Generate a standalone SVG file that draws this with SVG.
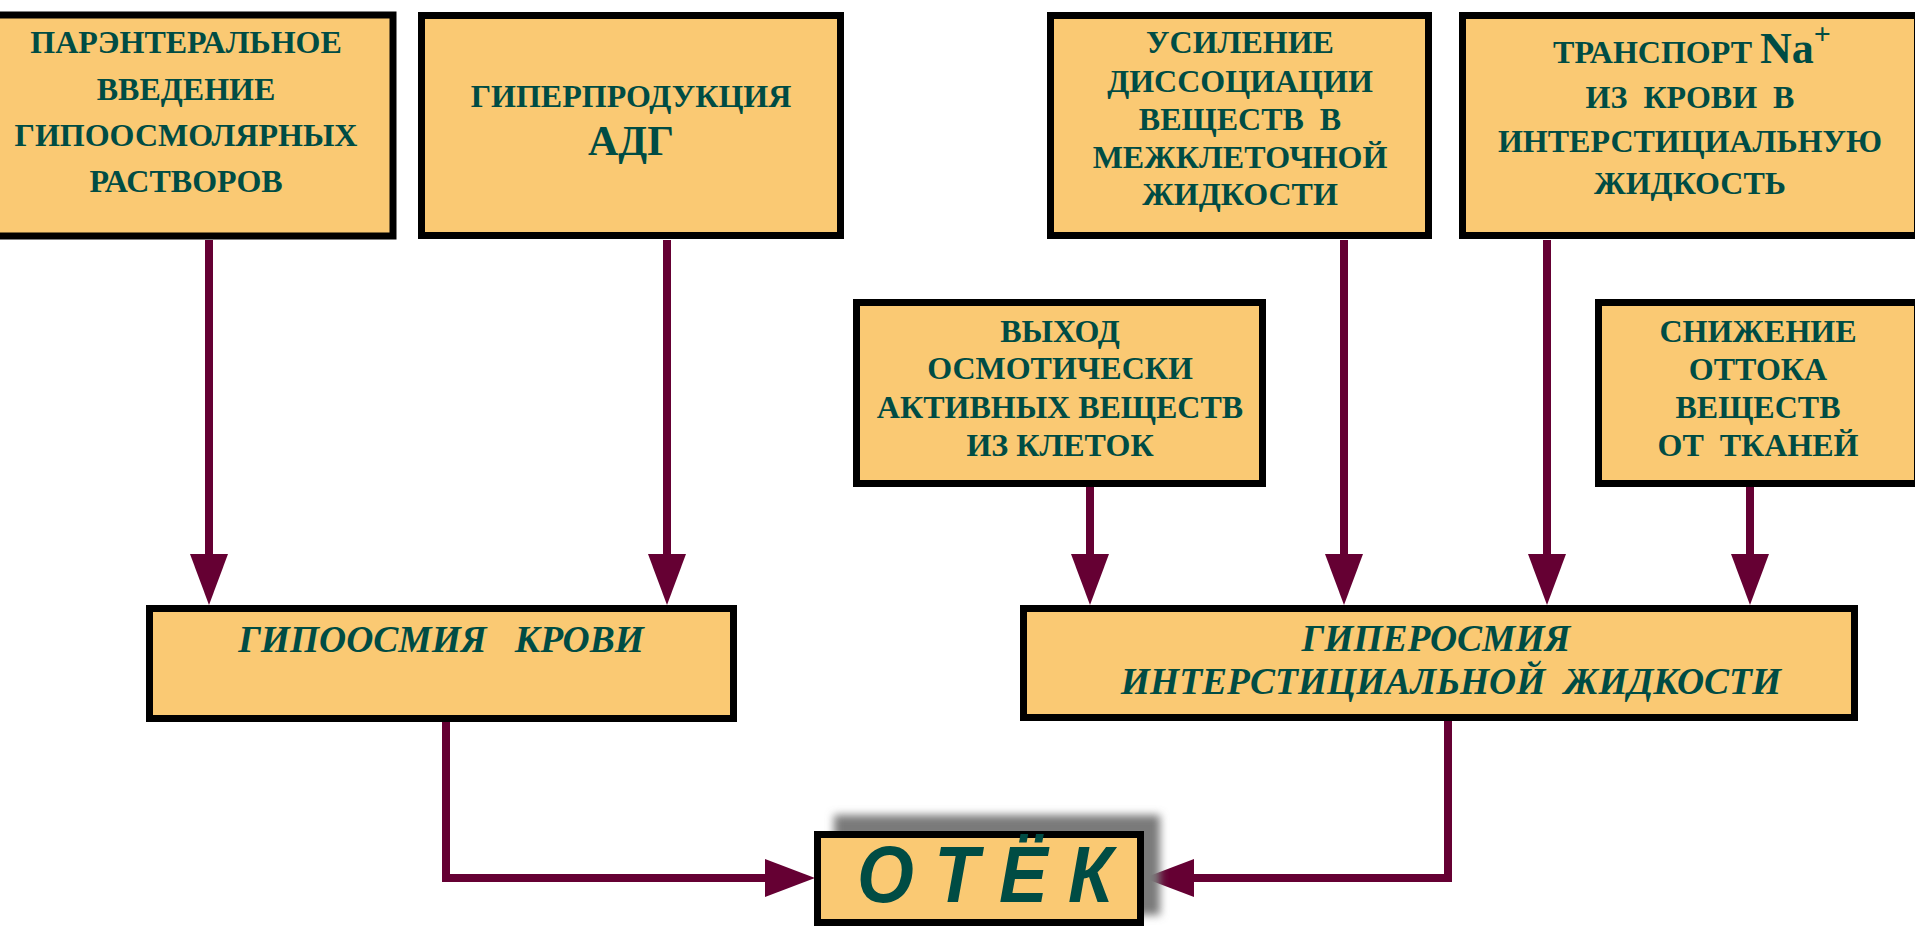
<svg xmlns="http://www.w3.org/2000/svg" width="1915" height="927" viewBox="0 0 1915 927">
<style>
.box{fill:#FAC973;stroke:#000;stroke-width:7}
.t{font-family:"Liberation Serif","Times New Roman",serif;font-weight:bold;font-size:32px;fill:#004C44;text-anchor:middle;white-space:pre}
.ti{font-family:"Liberation Serif","Times New Roman",serif;font-weight:bold;font-style:italic;font-size:37.5px;fill:#004C44;text-anchor:middle;white-space:pre}
.big{font-family:"Liberation Sans",Arial,sans-serif;font-weight:bold;font-style:italic;font-size:80px;fill:#004C44;white-space:pre}
.ln{fill:none;stroke:#650033;stroke-width:8}
.ah{fill:#650033}
</style>
<defs>
<filter id="blur" x="-20%" y="-40%" width="140%" height="180%"><feGaussianBlur stdDeviation="4"/></filter>
</defs>
<rect width="1915" height="927" fill="#fff"/>
<g id="connectors">
<line class="ln" x1="209" y1="240" x2="209" y2="556"/><polygon class="ah" points="190,554 228,554 209,605"/>
<line class="ln" x1="667" y1="240" x2="667" y2="556"/><polygon class="ah" points="648,554 686,554 667,605"/>
<line class="ln" x1="1090" y1="487" x2="1090" y2="556"/><polygon class="ah" points="1071,554 1109,554 1090,605"/>
<line class="ln" x1="1344" y1="240" x2="1344" y2="556"/><polygon class="ah" points="1325,554 1363,554 1344,605"/>
<line class="ln" x1="1547" y1="240" x2="1547" y2="556"/><polygon class="ah" points="1528,554 1566,554 1547,605"/>
<line class="ln" x1="1750" y1="487" x2="1750" y2="556"/><polygon class="ah" points="1731,554 1769,554 1750,605"/>
<polyline class="ln" points="446,722 446,878 768,878"/><polygon class="ah" points="765,859 765,897 815,878"/>
<polyline class="ln" points="1448,721 1448,878 1192,878"/><polygon class="ah" points="1194,859 1194,897 1144,878"/>
</g>
<g id="n1">
<rect class="box" x="-22" y="15" width="415" height="221"/>
<text class="t" x="186" y="53">ПАРЭНТЕРАЛЬНОЕ</text>
<text class="t" x="186" y="100">ВВЕДЕНИЕ</text>
<text class="t" x="186" y="146">ГИПООСМОЛЯРНЫХ</text>
<text class="t" x="186" y="192">РАСТВОРОВ</text>
</g>
<g id="n2">
<rect class="box" x="421.5" y="15.5" width="419" height="220"/>
<text class="t" x="631" y="107">ГИПЕРПРОДУКЦИЯ</text>
<text class="t" x="631" y="155" style="font-size:42px">АДГ</text>
</g>
<g id="n3">
<rect class="box" x="1050.5" y="15.5" width="378" height="220"/>
<text class="t" x="1240" y="53">УСИЛЕНИЕ</text>
<text class="t" x="1240" y="92">ДИССОЦИАЦИИ</text>
<text class="t" x="1240" y="130">ВЕЩЕСТВ  В</text>
<text class="t" x="1240" y="168">МЕЖКЛЕТОЧНОЙ</text>
<text class="t" x="1240" y="205">ЖИДКОСТИ</text>
</g>
<g id="n4">
<rect class="box" x="1462.5" y="15.5" width="455" height="220"/>
<text class="t" x="1692" y="63">ТРАНСПОРТ <tspan style="font-size:44px">Na</tspan><tspan style="font-size:30px" dy="-19">+</tspan></text>
<text class="t" x="1690" y="108">ИЗ  КРОВИ  В</text>
<text class="t" x="1690" y="152">ИНТЕРСТИЦИАЛЬНУЮ</text>
<text class="t" x="1690" y="194">ЖИДКОСТЬ</text>
</g>
<g id="n5">
<rect class="box" x="856.5" y="302.5" width="406" height="181"/>
<text class="t" x="1060" y="342">ВЫХОД</text>
<text class="t" x="1060" y="379">ОСМОТИЧЕСКИ</text>
<text class="t" x="1060" y="418">АКТИВНЫХ ВЕЩЕСТВ</text>
<text class="t" x="1060" y="456">ИЗ КЛЕТОК</text>
</g>
<g id="n6">
<rect class="box" x="1598.5" y="302.5" width="319" height="181"/>
<text class="t" x="1758" y="342">СНИЖЕНИЕ</text>
<text class="t" x="1758" y="380">ОТТОКА</text>
<text class="t" x="1758" y="418">ВЕЩЕСТВ</text>
<text class="t" x="1758" y="456">ОТ  ТКАНЕЙ</text>
</g>
<g id="n7">
<rect class="box" x="149.5" y="608.5" width="584" height="110"/>
<text class="ti" x="441" y="652">ГИПООСМИЯ   КРОВИ</text>
</g>
<g id="n8">
<rect class="box" x="1023.5" y="608.5" width="831" height="109"/>
<text class="ti" x="1436" y="651">ГИПЕРОСМИЯ</text>
<text class="ti" x="1451" y="694">ИНТЕРСТИЦИАЛЬНОЙ  ЖИДКОСТИ</text>
</g>
<g id="n9">
<rect x="834" y="815" width="326" height="100" fill="#7a7a7a" filter="url(#blur)"/>
<rect class="box" x="817.5" y="834.5" width="323" height="88"/>
<text class="big" x="857" y="902" textLength="256" lengthAdjust="spacingAndGlyphs">О Т Ё К</text>
</g>
</svg>
